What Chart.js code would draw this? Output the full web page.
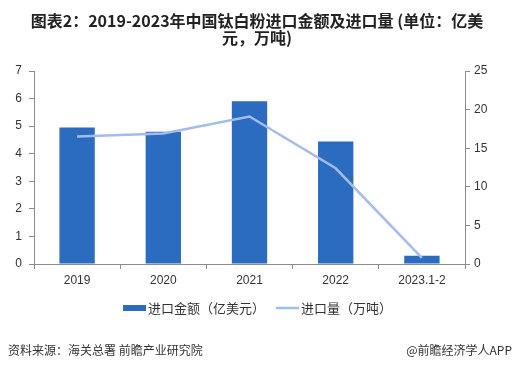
<!DOCTYPE html>
<html>
<head>
<meta charset="utf-8">
<script src="https://cdn.jsdelivr.net/npm/chart.js@4/dist/chart.umd.min.js"></script>
<style>
  html, body { margin: 0; padding: 0; background: #fff; }
  #wrap { position: relative; width: 513px; height: 370px; }
</style>
</head>
<body>
<div id="wrap"><canvas id="chart" width="513" height="370"></canvas></div>
<script>
// 数据
const categories = ['2019', '2020', '2021', '2022', '2023.1-2'];
const importValue = [4.95, 4.8, 5.9, 4.44, 0.3];     // 亿美元
const importVolume = [16.5, 16.9, 19.1, 12.4, 0.8];  // 万吨
const leftTicks = [0, 1, 2, 3, 4, 5, 6, 7];
const rightTicks = [0, 5, 10, 15, 20, 25];

const titleLines = ['图表2：2019-2023年中国钛白粉进口金额及进口量 (单位：亿美', '元，万吨)'];
const valueLabel = '进口金额（亿美元）';
const volumeLabel = '进口量（万吨）';
const sourceText = '资料来源：海关总署 前瞻产业研究院';
const brandText = '@前瞻经济学人APP';

const barColor = '#2b6bc0';
const lineColor = '#a3bcee';
const axisColor = '#8c8c8c';
const fontFamily = '"Liberation Sans", Arial, "Noto Sans CJK SC", sans-serif';
const cjkFont = '"Noto Sans CJK SC", "Liberation Sans", sans-serif';

// 标题、图例、来源
const textPlugin = {
    id: 'texts',
    afterDraw(chart) {
        const c = chart.ctx;
        c.save();
        c.fillStyle = '#222';
        c.textAlign = 'center';
        c.textBaseline = 'middle';
        c.font = 'bold 16px ' + cjkFont;
        c.fillText(titleLines[0], 257, 21);
        c.fillText(titleLines[1], 257, 38);

        // 图例
        c.font = '13px ' + cjkFont;
        c.textAlign = 'left';
        c.fillStyle = barColor;
        c.fillRect(123, 305, 23, 6);
        c.fillStyle = '#333';
        c.fillText(valueLabel, 148, 308);
        c.strokeStyle = lineColor;
        c.lineWidth = 2.5;
        c.beginPath();
        c.moveTo(276, 308);
        c.lineTo(299, 308);
        c.stroke();
        c.fillText(volumeLabel, 301, 308);

        // 来源
        c.font = '12px ' + cjkFont;
        c.fillStyle = '#333';
        c.fillText(sourceText, 8, 350);
        c.textAlign = 'right';
        c.fillText(brandText, 512, 350);
        c.restore();
    }
};

new Chart(document.getElementById('chart'), {
    type: 'bar',
    data: {
        labels: categories,
        datasets: [
            {
                type: 'line',
                label: volumeLabel,
                data: importVolume,
                yAxisID: 'y1',
                borderColor: lineColor,
                borderWidth: 2.5,
                pointRadius: 0,
                tension: 0,
                order: 0
            },
            {
                label: valueLabel,
                data: importValue,
                yAxisID: 'y',
                backgroundColor: barColor,
                barPercentage: 0.41,
                categoryPercentage: 1,
                order: 1
            }
        ]
    },
    options: {
        responsive: false,
        animation: false,
        layout: { padding: { top: 71, bottom: 86, left: 0, right: 0 } },
        plugins: {
            legend: { display: false },
            title: { display: false },
            tooltip: { enabled: false }
        },
        scales: {
            x: {
                offset: true,
                grid: { display: true, drawOnChartArea: false, offset: true, color: axisColor, tickLength: 5 },
                border: { color: axisColor, width: 1 },
                ticks: { color: '#333', font: { size: 12, family: fontFamily }, padding: 4 },
                afterFit(s) { s.height = 20; }
            },
            y: {
                position: 'left',
                min: 0, max: 7,
                afterBuildTicks(s) { s.ticks = leftTicks.map(v => ({ value: v })); },
                grid: { drawOnChartArea: false, color: axisColor, tickLength: 5 },
                border: { color: axisColor, width: 1 },
                ticks: { color: '#333', font: { size: 12, family: fontFamily }, padding: 7 },
                afterFit(s) { s.width = 34; }
            },
            y1: {
                position: 'right',
                min: 0, max: 25,
                afterBuildTicks(s) { s.ticks = rightTicks.map(v => ({ value: v })); },
                grid: { drawOnChartArea: false, color: axisColor, tickLength: 5 },
                border: { color: axisColor, width: 1 },
                ticks: { color: '#333', font: { size: 12, family: fontFamily }, padding: 4 },
                afterFit(s) { s.width = 48; }
            }
        }
    },
    plugins: [textPlugin]
});
</script>
</body>
</html>
